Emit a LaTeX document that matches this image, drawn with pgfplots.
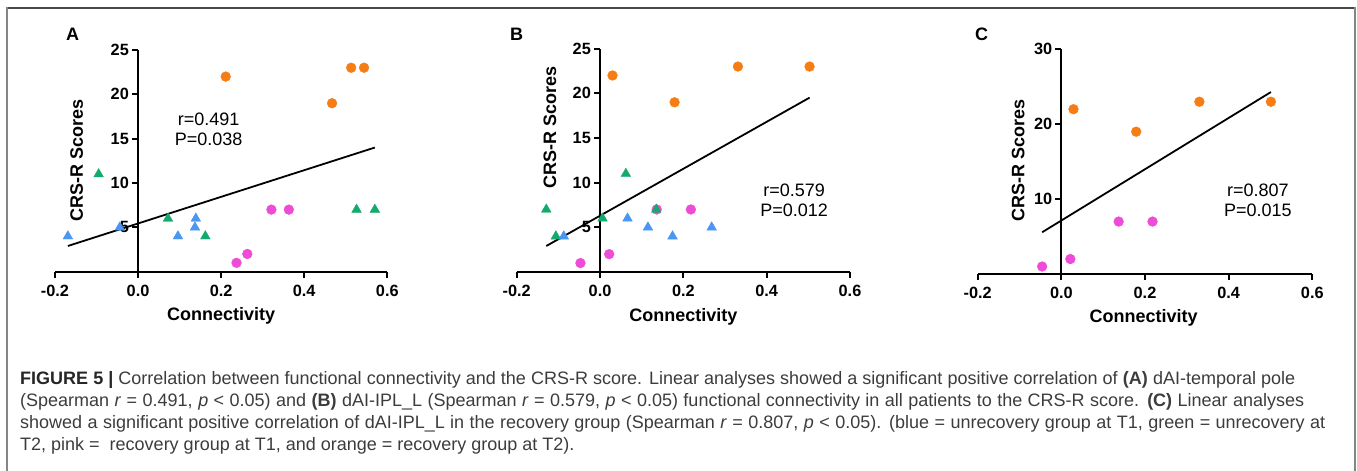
\documentclass[border=0pt]{standalone}
\usepackage{fontspec}
\setmainfont{Liberation Sans}
\usepackage{pgfplots}
\pgfplotsset{compat=1.18}
\definecolor{cOrange}{RGB}{245,125,20}
\definecolor{cPink}{RGB}{238,75,215}
\definecolor{cBlue}{RGB}{75,150,240}
\definecolor{cGreen}{RGB}{20,170,110}
\definecolor{capgray}{RGB}{60,60,60}
\newcommand{\lblfont}{\fontsize{18}{20}\selectfont\bfseries}
\pgfplotsset{
  prism/.style={
    scale only axis, clip=false,
    axis x line=bottom, axis y line=middle,
    hide obscured x ticks=false,
    axis line style={-, line width=2pt, black},
    tick align=outside,
    major tick length=6pt,
    every tick/.style={black, line width=2pt},
    xmin=-0.2, xmax=0.6, ymin=0,
    xtick={-0.2,0,0.2,0.4,0.6},
    xticklabels={-0.2,0.0,0.2,0.4,0.6},
    tick label style={font=\fontsize{16.3}{18}\selectfont\bfseries},
    xticklabel style={inner sep=0pt, yshift=-7pt},
    yticklabel style={inner sep=0pt, xshift=-3pt},
    xlabel={Connectivity},
    ylabel={CRS-R Scores},
  },
  circ/.style={only marks, mark=*, mark size=4.9pt},
  tri/.style={only marks, mark=triangle*, mark size=5.6pt},
  fit/.style={black, line width=1.8pt, no marks},
}
\begin{document}
\begin{tikzpicture}[x=1pt,y=1pt]
\path[use as bounding box] (0,0) rectangle (1357,471);
% frame
\draw[line width=2pt, black!72] (6.3,462.7) -- (1356.3,462.7);
\draw[line width=2pt, black!48] (7.3,0) -- (7.3,463.7);
\draw[line width=2pt, black!48] (1355.3,0) -- (1355.3,463.7);

% Panel A
\node[font=\lblfont] at (72.7,436.7) {A};
\begin{axis}[prism, at={(55pt,199.3pt)}, anchor=south west,
  width=332.3pt, height=221.7pt, ymax=25,
  ytick={5,10,15,20,25}, yticklabels={5,10,15,20,25},
  every axis x label/.style={at={(axis description cs:0.5,-0.2)}, anchor=center, font=\lblfont},
  every axis y label/.style={at={(axis description cs:0.065,0.5)}, rotate=90, anchor=center, font=\lblfont}]
\addplot[fit] coordinates {(-0.169,2.9) (0.570,14.0)};
\addplot[circ, color=cPink] coordinates {(0.321,7) (0.363,7) (0.263,2) (0.237,1)};
\addplot[circ, color=cOrange] coordinates {(0.211,22) (0.467,19) (0.513,23) (0.544,23)};
\addplot[tri, color=cGreen] coordinates {(-0.095,11) (0.072,6) (0.162,4) (0.526,7) (0.570,7)};
\addplot[tri, color=cBlue] coordinates {(-0.169,4) (-0.044,5) (0.096,4) (0.139,6) (0.137,5)};
\node[align=center, font=\fontsize{18}{20}\selectfont] at (axis cs:0.170,16.1) {r=0.491\\P=0.038};
\end{axis}

% Panel B
\node[font=\lblfont] at (516.7,437) {B};
\begin{axis}[prism, at={(516.7pt,199pt)}, anchor=south west,
  width=333.3pt, height=223.3pt, ymax=25,
  ytick={5,10,15,20,25}, yticklabels={5,10,15,20,25},
  every axis x label/.style={at={(axis description cs:0.5,-0.2)}, anchor=center, font=\lblfont},
  every axis y label/.style={at={(axis description cs:0.1,0.649)}, rotate=90, anchor=center, font=\lblfont}]
\addplot[fit] coordinates {(-0.129,2.91) (0.503,19.52)};
\addplot[circ, color=cPink] coordinates {(-0.047,1) (0.022,2) (0.136,7) (0.218,7)};
\addplot[circ, color=cOrange] coordinates {(0.030,22) (0.179,19) (0.331,23) (0.503,23)};
\addplot[tri, color=cGreen] coordinates {(-0.129,7) (-0.106,4) (0.006,6) (0.062,11) (0.135,7)};
\addplot[tri, color=cBlue] coordinates {(-0.087,4) (0.066,6) (0.115,5) (0.174,4) (0.268,5)};
\node[align=center, font=\fontsize{18}{20}\selectfont] at (axis cs:0.466,8.06) {r=0.579\\P=0.012};
\end{axis}

% Panel C
\node[font=\lblfont] at (981.7,437) {C};
\begin{axis}[prism, at={(977.7pt,197pt)}, anchor=south west,
  width=334.6pt, height=224.7pt, ymax=30,
  ytick={10,20,30}, yticklabels={10,20,30},
  every axis x label/.style={at={(axis description cs:0.496,-0.196)}, anchor=center, font=\lblfont},
  every axis y label/.style={at={(axis description cs:0.121,0.505)}, rotate=90, anchor=center, font=\lblfont}]
\addplot[fit] coordinates {(-0.046,5.57) (0.501,24.29)};
\addplot[circ, color=cPink] coordinates {(-0.046,1) (0.0215,2) (0.137,7) (0.218,7)};
\addplot[circ, color=cOrange] coordinates {(0.029,22) (0.179,19) (0.330,23) (0.501,23)};
\node[align=center, font=\fontsize{18}{20}\selectfont] at (axis cs:0.470,9.85) {r=0.807\\P=0.015};
\end{axis}

% Caption
\begin{scope}[every node/.style={anchor=base west, inner sep=0pt, text=capgray, font=\fontsize{18}{22}\selectfont}]
\node at (20,86) {\makebox[1275pt][s]{\textbf{\color{black!85}FIGURE 5 |} Correlation between functional connectivity and the CRS-R score. Linear analyses showed a significant positive correlation of \textbf{(A)} dAI-temporal pole}};
\node at (20,64) {\makebox[1284pt][s]{(Spearman \textit{r} = 0.491, \textit{p} < 0.05) and \textbf{(B)} dAI-IPL\_L (Spearman \textit{r} = 0.579, \textit{p} < 0.05) functional connectivity in all patients to the CRS-R score. \textbf{(C)} Linear analyses}};
\node at (20,42) {\makebox[1305pt][s]{showed a significant positive correlation of dAI-IPL\_L in the recovery group (Spearman \textit{r} = 0.807, \textit{p} < 0.05). (blue = unrecovery group at T1, green = unrecovery at}};
\node at (20,20) {T2, pink =\ \ recovery group at T1, and orange = recovery group at T2).};
\end{scope}
\end{tikzpicture}
\end{document}
